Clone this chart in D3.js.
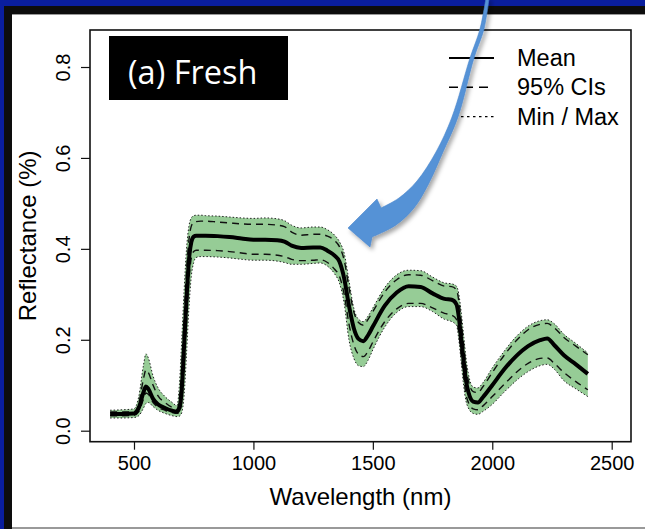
<!DOCTYPE html>
<html>
<head>
<meta charset="utf-8">
<script src="https://cdn.jsdelivr.net/npm/d3@7"></script>
<style>
  html, body { margin: 0; padding: 0; background: #0a1e9e; }
  svg { display: block; }
</style>
</head>
<body>
<div id="viz"></div>
<script>
// wavelength grid (nm) and reflectance series
var wavelengths = [400, 450, 500, 520, 540, 550, 560, 580, 600, 630, 660, 680, 690, 700, 710, 720, 730, 740, 750, 760, 780, 800, 850, 900, 950, 1000, 1050, 1100, 1130, 1160, 1200, 1250, 1280, 1310, 1340, 1360, 1380, 1400, 1420, 1440, 1460, 1480, 1500, 1550, 1600, 1650, 1700, 1750, 1800, 1830, 1850, 1860, 1870, 1880, 1890, 1900, 1920, 1940, 1960, 2000, 2050, 2100, 2150, 2200, 2230, 2260, 2300, 2350, 2400];

var meanRefl = [0.037, 0.037, 0.038, 0.05, 0.085, 0.097, 0.092, 0.07, 0.058, 0.05, 0.044, 0.042, 0.05, 0.09, 0.19, 0.29, 0.375, 0.415, 0.427, 0.429, 0.429, 0.429, 0.428, 0.426, 0.423, 0.42, 0.42, 0.419, 0.416, 0.407, 0.402, 0.403, 0.403, 0.396, 0.385, 0.372, 0.335, 0.275, 0.226, 0.202, 0.197, 0.21, 0.229, 0.275, 0.304, 0.318, 0.316, 0.302, 0.29, 0.288, 0.278, 0.25, 0.2, 0.155, 0.11, 0.085, 0.064, 0.062, 0.073, 0.1, 0.135, 0.164, 0.186, 0.199, 0.203, 0.188, 0.166, 0.146, 0.125];

var ciUpper = [0.041, 0.041, 0.042, 0.06, 0.115, 0.134, 0.128, 0.1, 0.077, 0.062, 0.051, 0.047, 0.07, 0.14, 0.25, 0.35, 0.42, 0.45, 0.458, 0.46, 0.461, 0.461, 0.459, 0.457, 0.455, 0.454, 0.454, 0.452, 0.449, 0.437, 0.43, 0.432, 0.432, 0.428, 0.418, 0.405, 0.375, 0.315, 0.262, 0.238, 0.232, 0.245, 0.262, 0.305, 0.332, 0.343, 0.342, 0.33, 0.318, 0.317, 0.31, 0.285, 0.24, 0.19, 0.14, 0.11, 0.086, 0.084, 0.096, 0.128, 0.166, 0.198, 0.222, 0.234, 0.236, 0.226, 0.205, 0.186, 0.167];

var ciLower = [0.033, 0.033, 0.034, 0.042, 0.07, 0.083, 0.08, 0.062, 0.052, 0.045, 0.04, 0.038, 0.042, 0.065, 0.14, 0.24, 0.33, 0.38, 0.394, 0.397, 0.397, 0.397, 0.396, 0.394, 0.391, 0.388, 0.388, 0.386, 0.383, 0.377, 0.374, 0.375, 0.376, 0.37, 0.355, 0.34, 0.3, 0.235, 0.19, 0.168, 0.163, 0.175, 0.195, 0.24, 0.268, 0.28, 0.28, 0.27, 0.258, 0.254, 0.245, 0.215, 0.165, 0.12, 0.08, 0.062, 0.048, 0.046, 0.054, 0.075, 0.102, 0.128, 0.148, 0.159, 0.16, 0.148, 0.128, 0.108, 0.09];

var maxRefl = [0.045, 0.046, 0.048, 0.075, 0.145, 0.169, 0.16, 0.12, 0.095, 0.075, 0.062, 0.055, 0.1, 0.2, 0.31, 0.4, 0.45, 0.468, 0.473, 0.474, 0.474, 0.473, 0.472, 0.47, 0.468, 0.467, 0.468, 0.466, 0.462, 0.452, 0.446, 0.448, 0.448, 0.442, 0.43, 0.416, 0.39, 0.33, 0.27, 0.245, 0.24, 0.252, 0.27, 0.315, 0.343, 0.353, 0.352, 0.338, 0.325, 0.323, 0.318, 0.3, 0.26, 0.21, 0.16, 0.125, 0.096, 0.094, 0.105, 0.138, 0.175, 0.207, 0.23, 0.242, 0.244, 0.235, 0.212, 0.192, 0.171];

var minRefl = [0.028, 0.028, 0.029, 0.033, 0.05, 0.06, 0.062, 0.053, 0.045, 0.038, 0.033, 0.031, 0.032, 0.04, 0.08, 0.17, 0.27, 0.34, 0.37, 0.381, 0.383, 0.383, 0.382, 0.38, 0.377, 0.375, 0.375, 0.373, 0.37, 0.366, 0.366, 0.368, 0.369, 0.362, 0.345, 0.325, 0.28, 0.2, 0.16, 0.143, 0.141, 0.155, 0.178, 0.228, 0.26, 0.273, 0.273, 0.262, 0.245, 0.24, 0.232, 0.2, 0.15, 0.1, 0.065, 0.05, 0.038, 0.036, 0.042, 0.058, 0.085, 0.11, 0.13, 0.143, 0.146, 0.135, 0.11, 0.092, 0.075];

var xTicks = [500, 1000, 1500, 2000, 2500];
var yTicks = [0.0, 0.2, 0.4, 0.6, 0.8];
var yTickLabels = ["0.0", "0.2", "0.4", "0.6", "0.8"];
var legendLabels = ["Mean", "95% CIs", "Min / Max"];
var panelTitle = "(a) Fresh";

var width = 645, height = 529;
var plot = {left: 90, right: 631, top: 30, bottom: 441.7};

var svg = d3.select("#viz").append("svg")
    .attr("width", width)
    .attr("height", height);

var defs = svg.append("defs");
defs.append("filter").attr("id", "shadow")
    .attr("x", "-20%").attr("y", "-20%").attr("width", "150%").attr("height", "150%")
  .append("feDropShadow")
    .attr("dx", 2.5).attr("dy", 3).attr("stdDeviation", 2)
    .attr("flood-color", "#000").attr("flood-opacity", 0.35);

// slide frame: navy, black border, white panel
svg.append("rect").attr("width", width).attr("height", height).attr("fill", "#0a1e9e");
svg.append("rect").attr("x", 4).attr("y", 6).attr("width", width - 4).attr("height", height - 6).attr("fill", "#0d0d0d");
svg.append("rect").attr("x", 12).attr("y", 14).attr("width", width - 12).attr("height", 513).attr("fill", "#fff");
svg.append("line").attr("x1", 12).attr("x2", width).attr("y1", 14.5).attr("y2", 14.5).attr("stroke", "#999").attr("stroke-width", 1);
svg.append("line").attr("x1", 12).attr("x2", width).attr("y1", 528).attr("y2", 528).attr("stroke", "#999").attr("stroke-width", 2);

var x = d3.scaleLinear().domain([315.8, 2580.8]).range([plot.left, plot.right]);
var y = d3.scaleLinear().domain([-0.0242, 0.8814]).range([plot.bottom, plot.top]);

var rows = wavelengths.map(function (w, i) {
  return {w: w, mean: meanRefl[i], lo: ciLower[i], hi: ciUpper[i], min: minRefl[i], max: maxRefl[i]};
});

var curve = d3.curveMonotoneX;

var band = d3.area()
    .x(function (d) { return x(d.w); })
    .y0(function (d) { return y(d.min); })
    .y1(function (d) { return y(d.max); })
    .curve(curve);

function lineOf(key) {
  return d3.line()
      .x(function (d) { return x(d.w); })
      .y(function (d) { return y(d[key]); })
      .curve(curve);
}

var g = svg.append("g");

g.append("path").datum(rows).attr("d", band).attr("fill", "#96cc96");

["min", "max"].forEach(function (k) {
  g.append("path").datum(rows).attr("d", lineOf(k))
      .attr("fill", "none").attr("stroke", "#222").attr("stroke-width", 1)
      .attr("stroke-dasharray", "1.5,2");
});

["lo", "hi"].forEach(function (k) {
  g.append("path").datum(rows).attr("d", lineOf(k))
      .attr("fill", "none").attr("stroke", "#111").attr("stroke-width", 1.4)
      .attr("stroke-dasharray", "7,5");
});

g.append("path").datum(rows).attr("d", lineOf("mean"))
    .attr("fill", "none").attr("stroke", "#000").attr("stroke-width", 4)
    .attr("stroke-linejoin", "round");

// plot box
svg.append("rect")
    .attr("x", plot.left).attr("y", plot.top)
    .attr("width", plot.right - plot.left).attr("height", plot.bottom - plot.top)
    .attr("fill", "none").attr("stroke", "#111").attr("stroke-width", 1.6);

// x axis
var xAxis = svg.append("g")
    .attr("transform", "translate(0," + plot.bottom + ")")
    .call(d3.axisBottom(x).tickValues(xTicks).tickSize(8).tickPadding(6).tickFormat(d3.format("d")));
xAxis.select(".domain").remove();
xAxis.selectAll("line").attr("stroke", "#111").attr("stroke-width", 1.2);
xAxis.selectAll("text")
    .attr("font-family", "Liberation Sans, Arial, sans-serif")
    .attr("font-size", 20).attr("fill", "#000");

// y axis (labels parallel to the axis, R style)
var yAxis = svg.append("g")
    .attr("transform", "translate(" + plot.left + ",0)")
    .call(d3.axisLeft(y).tickValues(yTicks).tickSize(9).tickFormat(function (d, i) { return yTickLabels[i]; }));
yAxis.select(".domain").remove();
yAxis.selectAll("line").attr("stroke", "#111").attr("stroke-width", 1.2);
yAxis.selectAll("text")
    .attr("x", null).attr("dy", null)
    .attr("text-anchor", "middle")
    .attr("transform", "translate(-20,0) rotate(-90)")
    .attr("font-family", "Liberation Sans, Arial, sans-serif")
    .attr("font-size", 20).attr("fill", "#000");

// axis titles
svg.append("text")
    .attr("x", (plot.left + plot.right) / 2).attr("y", 505)
    .attr("text-anchor", "middle")
    .attr("font-family", "Liberation Sans, Arial, sans-serif")
    .attr("font-size", 24).attr("fill", "#000")
    .text("Wavelength (nm)");

svg.append("text")
    .attr("transform", "translate(36," + (plot.top + plot.bottom) / 2 + ") rotate(-90)")
    .attr("text-anchor", "middle")
    .attr("font-family", "Liberation Sans, Arial, sans-serif")
    .attr("font-size", 24).attr("fill", "#000")
    .text("Reflectance (%)");

// legend
var legendStyles = [
  {w: 2, dash: null, x0: 449},
  {w: 1.6, dash: "9,6", x0: 449},
  {w: 1.4, dash: "2.5,3.5", x0: 455}
];
var legend = svg.append("g");
legendLabels.forEach(function (label, i) {
  var cy = 58 + i * 29.3;
  legend.append("line")
      .attr("x1", legendStyles[i].x0).attr("x2", 494)
      .attr("y1", cy).attr("y2", cy)
      .attr("stroke", "#000").attr("stroke-width", legendStyles[i].w)
      .attr("stroke-dasharray", legendStyles[i].dash);
  legend.append("text")
      .attr("x", 517).attr("y", cy + 8)
      .attr("font-family", "Liberation Sans, Arial, sans-serif")
      .attr("font-size", 23.5).attr("fill", "#000")
      .text(label);
});

// panel label
svg.append("rect").attr("x", 109).attr("y", 36).attr("width", 179).attr("height", 64).attr("fill", "#000");
svg.append("text")
    .attr("x", 128).attr("y", 84)
    .attr("font-family", "Open Sans, Noto Sans, sans-serif")
    .attr("font-size", 32.5).attr("fill", "#fff")
    .text(panelTitle);

// curved call-out arrow: two smooth edges joined by the head
var leftEdge = [[486, -2], [480, 29], [470, 58], [452, 117], [436, 152], [417, 181], [399, 198], [381, 208]];
var head = [[377, 199], [348, 228], [370, 247]];
var rightEdge = [[372, 237], [396, 225], [414, 208], [428, 185], [443, 152], [458, 117], [474, 58], [484, 29], [489, -2]];
var smooth = d3.line().curve(d3.curveCatmullRom.alpha(0.5));
var arrowD = smooth(leftEdge) +
    head.map(function (p) { return "L" + p[0] + "," + p[1]; }).join("") +
    "L" + smooth(rightEdge).slice(1) + "Z";
svg.append("path")
    .attr("d", arrowD)
    .attr("fill", "#5592d6")
    .attr("stroke", "#4a86cc").attr("stroke-width", 0.6)
    .attr("filter", "url(#shadow)");
</script>
</body>
</html>
